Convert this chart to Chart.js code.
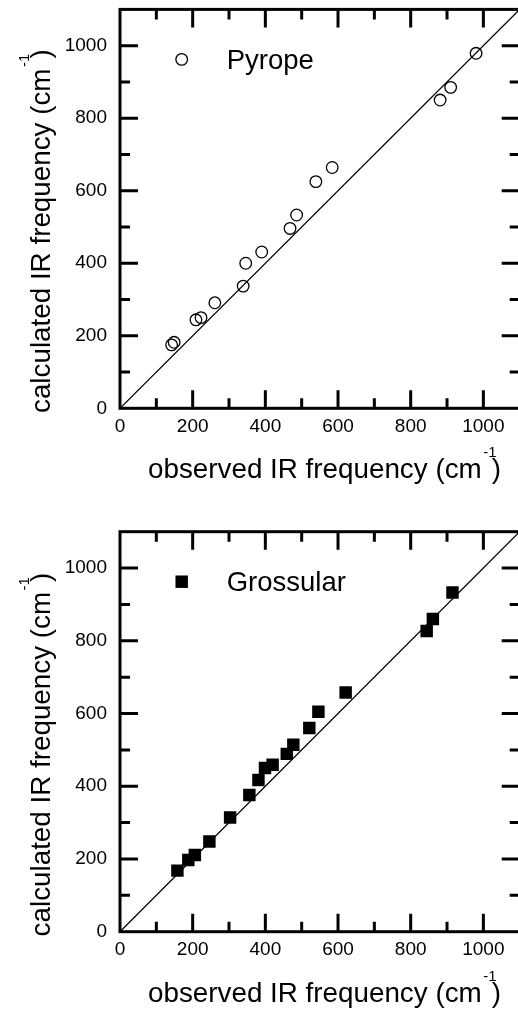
<!DOCTYPE html>
<html>
<head>
<meta charset="utf-8">
<script src="https://cdn.jsdelivr.net/npm/chart.js@4.4.1/dist/chart.umd.min.js"></script>
<style>
	html, body { margin: 0; padding: 0; background: #fff; overflow: hidden; width: 518px; height: 1012px; }
	.panel { position: relative; width: 530px; height: 506px; }
</style>
</head>
<body>
<div class="panel"><canvas id="pyropeChart"></canvas></div>
<div class="panel"><canvas id="grossularChart"></canvas></div>
<script>
// IR mode frequencies (cm-1): observed vs calculated
const pyropeObserved = [142, 149, 209, 223, 261, 339, 346, 390, 468, 486, 539, 584, 881, 910, 980];
const pyropeCalculated = [175, 182, 244, 250, 291, 337, 400, 431, 496, 533, 625, 664, 850, 885, 979];

const grossularObserved = [158, 188, 206, 246, 303, 356, 381, 399, 420, 459, 477, 521, 546, 621, 844, 861, 915];
const grossularCalculated = [168, 197, 211, 248, 314, 376, 417, 450, 459, 489, 514, 560, 605, 658, 827, 860, 933];

const axisMin = 0;
const axisMax = 1100;
const majorStep = 200;
const minorStep = 100;

const xTitle = 'observed IR frequency (cm';
const yTitle = 'calculated IR frequency (cm';

const FONT = '"Liberation Sans", Arial, Helvetica, sans-serif';
const tickFont = { family: FONT, size: 19 };
Chart.defaults.font.family = FONT;
Chart.defaults.color = '#000';

function drawUnitTitle(ctx, text, x, y) {
	ctx.font = `27.8px ${FONT}`;
	ctx.textAlign = 'left';
	ctx.textBaseline = 'alphabetic';
	ctx.fillText(text, x, y);
	const w = ctx.measureText(text).width;
	ctx.fillText(')', x + w + 10, y);
	ctx.font = `15px ${FONT}`;
	ctx.fillText('-1', x + w + 1.5, y - 21);
}

// frame with inward ticks on all four sides, axis titles and the in-plot legend
const framePlugin = {
	id: 'frameAndTicks',
	afterDraw(chart) {
		const { ctx, chartArea: a, scales: { x, y } } = chart;
		ctx.save();
		ctx.strokeStyle = '#000';
		ctx.fillStyle = '#000';
		ctx.lineWidth = 3;
		ctx.strokeRect(a.left, a.top, a.right - a.left, a.bottom - a.top);

		for (let v = axisMin + minorStep; v < axisMax; v += minorStep) {
			const len = v % majorStep === 0 ? 18 : 10;
			const px = x.getPixelForValue(v);
			const py = y.getPixelForValue(v);
			ctx.beginPath();
			ctx.moveTo(px, a.bottom); ctx.lineTo(px, a.bottom - len);
			ctx.moveTo(px, a.top); ctx.lineTo(px, a.top + len);
			ctx.moveTo(a.left, py); ctx.lineTo(a.left + len, py);
			ctx.moveTo(a.right, py); ctx.lineTo(a.right - len, py);
			ctx.stroke();
		}

		drawUnitTitle(ctx, xTitle, a.left + 28, a.bottom + 70);

		ctx.save();
		ctx.translate(50, a.bottom + 4.7);
		ctx.rotate(-Math.PI / 2);
		drawUnitTitle(ctx, yTitle, 0, 0);
		ctx.restore();

		// legend entry for the point series
		const meta = chart.getDatasetMeta(1);
		const pt = meta.data[0];
		if (pt) {
			const o = pt.options;
			ctx.fillStyle = o.backgroundColor;
			ctx.strokeStyle = o.borderColor;
			ctx.lineWidth = o.borderWidth;
			Chart.helpers.drawPoint(ctx, o, a.left + 61.7, a.top + 50);
		}
		ctx.fillStyle = '#000';
		ctx.font = `27.5px ${FONT}`;
		ctx.textAlign = 'left';
		ctx.textBaseline = 'alphabetic';
		ctx.fillText(chart.data.datasets[1].label, a.left + 106.7, a.top + 59.5);
		ctx.restore();
	},
};

// keep tick labels from pushing the plot area around
function noLabelPadding(scale) {
	scale.paddingTop = 0;
	scale.paddingBottom = 0;
	scale.paddingLeft = 0;
	scale.paddingRight = 0;
}

function renderComparisonChart(id, label, observed, calculated, pointStyle, padTop, plotBottom) {
	const canvas = document.getElementById(id);
	const points = observed.map((v, i) => ({ x: v, y: calculated[i] }));
	const isRect = pointStyle === 'rect';

	return new Chart(canvas.getContext('2d'), {
		type: 'scatter',
		data: {
			datasets: [
				{
					label: 'y = x',
					data: [{ x: axisMin, y: axisMin }, { x: axisMax, y: axisMax }],
					showLine: true,
					borderColor: '#000',
					borderWidth: 1.3,
					pointRadius: 0,
				},
				{
					label,
					data: points,
					pointStyle,
					pointRadius: isRect ? 8.8 : 5.8,
					pointBorderWidth: isRect ? 0 : 1.3,
					pointBackgroundColor: isRect ? '#000' : 'rgba(0,0,0,0)',
					pointBorderColor: '#000',
				},
			],
		},
		options: {
			responsive: true,
			maintainAspectRatio: false,
			animation: false,
			events: [],
			layout: { autoPadding: false, padding: { top: padTop, right: 10.3, left: 0, bottom: 0 } },
			plugins: {
				legend: { display: false },
				tooltip: { enabled: false },
			},
			scales: {
				x: {
					type: 'linear',
					min: axisMin,
					max: axisMax,
					grid: { display: false, drawTicks: false },
					border: { display: false },
					ticks: {
						font: tickFont,
						stepSize: minorStep,
						autoSkip: false,
						maxRotation: 0,
						padding: 7,
						callback: (v) => (v % majorStep === 0 ? v : ''),
					},
					afterFit: (scale) => {
						scale.height = 506 - plotBottom;
						noLabelPadding(scale);
					},
				},
				y: {
					type: 'linear',
					min: axisMin,
					max: axisMax,
					grid: { display: false, drawTicks: false },
					border: { display: false },
					ticks: {
						font: tickFont,
						stepSize: minorStep,
						autoSkip: false,
						padding: 13,
						callback: (v) => (v % majorStep === 0 ? v : ''),
					},
					afterFit: (scale) => {
						scale.width = 120;
						noLabelPadding(scale);
					},
				},
			},
		},
		plugins: [framePlugin],
	});
}

renderComparisonChart('pyropeChart', 'Pyrope', pyropeObserved, pyropeCalculated, 'circle', 9.4, 408.3);
renderComparisonChart('grossularChart', 'Grossular', grossularObserved, grossularCalculated, 'rect', 25.7, 425.7);
</script>
</body>
</html>
